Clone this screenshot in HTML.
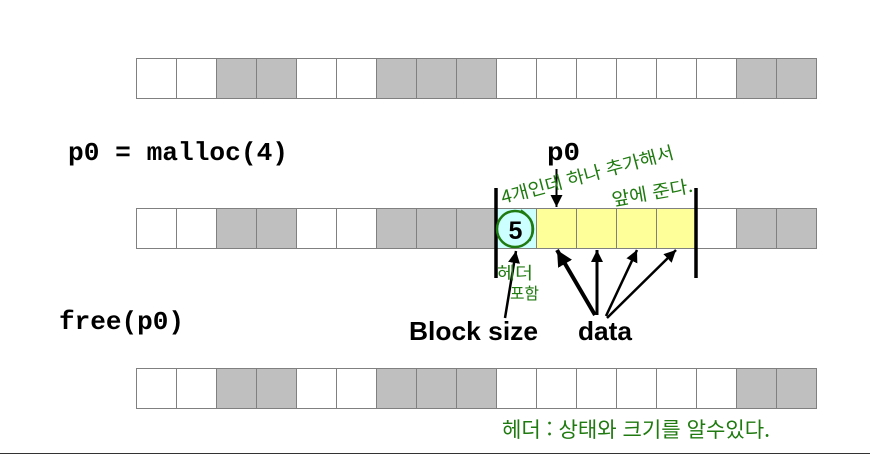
<!DOCTYPE html>
<html lang="ko">
<head>
<meta charset="utf-8">
<style>
html,body{margin:0;padding:0;background:#fff;width:870px;height:454px;overflow:hidden}
svg{display:block}
.m{font-family:"Liberation Mono",monospace;font-weight:700;font-size:26px;fill:#000}
.b{font-family:"Liberation Sans",sans-serif;font-weight:700;font-size:26px;fill:#000}
.h{font-family:"WenQuanYi Zen Hei","Noto Sans CJK KR",sans-serif;fill:#1f7a10}
</style>
</head>
<body>
<svg width="870" height="454" viewBox="0 0 870 454" xmlns="http://www.w3.org/2000/svg">
<defs>
<g id="cells" stroke="#808080" stroke-width="1">
<rect x="136.500" width="40" height="40" fill="#fff"/>
<rect x="176.500" width="40" height="40" fill="#fff"/>
<rect x="216.500" width="40" height="40" fill="#bfbfbf"/>
<rect x="256.500" width="40" height="40" fill="#bfbfbf"/>
<rect x="296.500" width="40" height="40" fill="#fff"/>
<rect x="336.500" width="40" height="40" fill="#fff"/>
<rect x="376.500" width="40" height="40" fill="#bfbfbf"/>
<rect x="416.500" width="40" height="40" fill="#bfbfbf"/>
<rect x="456.500" width="40" height="40" fill="#bfbfbf"/>
<rect x="496.500" width="40" height="40" fill="#fff"/>
<rect x="536.500" width="40" height="40" fill="#fff"/>
<rect x="576.500" width="40" height="40" fill="#fff"/>
<rect x="616.500" width="40" height="40" fill="#fff"/>
<rect x="656.500" width="40" height="40" fill="#fff"/>
<rect x="696.500" width="40" height="40" fill="#fff"/>
<rect x="736.500" width="40" height="40" fill="#bfbfbf"/>
<rect x="776.500" width="40" height="40" fill="#bfbfbf"/>
</g>
<marker id="ah" markerUnits="userSpaceOnUse" markerWidth="14" markerHeight="14" refX="12" refY="6" orient="auto"><path d="M0 0L12 6L0 12z" fill="#000"/></marker>
<marker id="ahb" markerUnits="userSpaceOnUse" markerWidth="20" markerHeight="20" refX="16" refY="8" orient="auto"><path d="M0 0L16 8L0 16z" fill="#000"/></marker>
</defs>

<use href="#cells" y="58.500"/>
<use href="#cells" y="208.500"/>
<use href="#cells" y="368.500"/>

<g stroke="#808080" stroke-width="1">
<rect x="496.500" y="208.500" width="40" height="40" fill="#ccffff"/>
<rect x="536.500" y="208.500" width="40" height="40" fill="#ffff99"/>
<rect x="576.500" y="208.500" width="40" height="40" fill="#ffff99"/>
<rect x="616.500" y="208.500" width="40" height="40" fill="#ffff99"/>
<rect x="656.500" y="208.500" width="40" height="40" fill="#ffff99"/>
</g>

<g stroke="#000" stroke-width="3.500">
<line x1="496" y1="188" x2="496" y2="278"/>
<line x1="696" y1="188" x2="696" y2="278"/>
</g>

<text class="m" x="68" y="160" textLength="220" lengthAdjust="spacingAndGlyphs">p0 = malloc(4)</text>
<text class="m" x="547" y="160" textLength="33" lengthAdjust="spacingAndGlyphs">p0</text>
<text class="m" x="59" y="329" textLength="125" lengthAdjust="spacingAndGlyphs">free(p0)</text>

<text x="515.500" y="239" text-anchor="middle" font-family="Liberation Sans, sans-serif" font-weight="700" font-size="25">5</text>
<circle cx="515" cy="229" r="18" fill="none" stroke="#1f7a10" stroke-width="2.500"/>
<path d="M521 210Q537 220 530 241" fill="none" stroke="#1f7a10" stroke-width="1.500"/>

<line x1="556.500" y1="169" x2="556.500" y2="207" stroke="#000" stroke-width="2" marker-end="url(#ah)"/>

<line x1="505" y1="318" x2="516" y2="251" stroke="#000" stroke-width="2.500" marker-end="url(#ah)"/>
<line x1="595" y1="315" x2="557" y2="250" stroke="#000" stroke-width="4" marker-end="url(#ahb)"/>
<line x1="597" y1="315" x2="597" y2="250" stroke="#000" stroke-width="3" marker-end="url(#ah)"/>
<line x1="606" y1="316" x2="637" y2="250" stroke="#000" stroke-width="2.500" marker-end="url(#ah)"/>
<line x1="607" y1="318" x2="676" y2="250" stroke="#000" stroke-width="2.500" marker-end="url(#ah)"/>

<text class="b" x="409" y="340" textLength="129" lengthAdjust="spacingAndGlyphs">Block size</text>
<text class="b" x="578" y="340" textLength="54" lengthAdjust="spacingAndGlyphs">data</text>

<text class="h" font-size="18" textLength="178" lengthAdjust="spacingAndGlyphs" transform="translate(503 204) rotate(-15)">4개인데 하나 추가해서</text>
<text class="h" font-size="18" textLength="82" lengthAdjust="spacingAndGlyphs" transform="translate(613 206) rotate(-10)">앞에 준다.</text>
<text class="h" font-size="17" x="497" y="279" textLength="36" lengthAdjust="spacingAndGlyphs">헤더</text>
<text class="h" font-size="16" x="510" y="299" textLength="29" lengthAdjust="spacingAndGlyphs">포함</text>
<text class="h" font-size="21" x="502" y="437" textLength="268" lengthAdjust="spacingAndGlyphs">헤더 : 상태와 크기를 알수있다.</text>

<line x1="0" y1="453.500" x2="870" y2="453.500" stroke="#333" stroke-width="1"/>
</svg>
</body>
</html>
